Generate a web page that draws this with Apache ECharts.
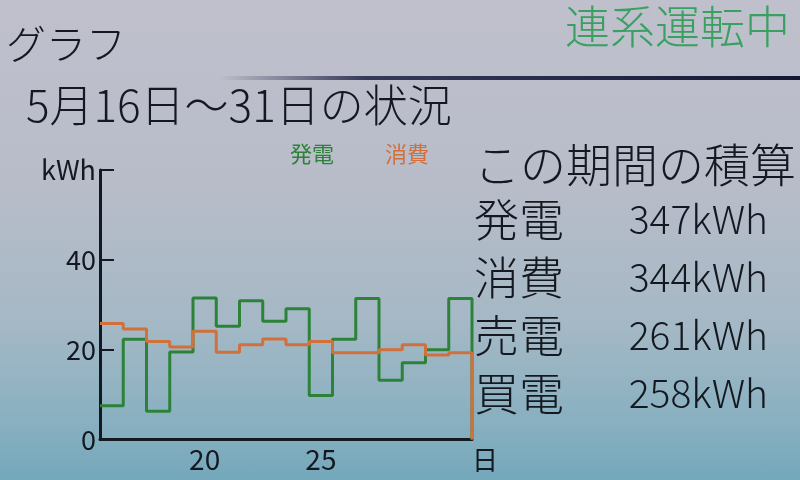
<!DOCTYPE html>
<html>
<head>
<meta charset="utf-8">
<script src="https://cdn.jsdelivr.net/npm/echarts@6/dist/echarts.min.js"></script>
<style>
  html, body { margin: 0; padding: 0; }
  body {
    width: 800px; height: 480px; overflow: hidden;
    background: linear-gradient(to bottom, #bfc0cc 0%, #b8bcc9 40%, #a4b8c5 68%, #88b0c0 88%, #74a8bb 100%);
  }
  #chart { width: 800px; height: 480px; }
</style>
</head>
<body>
<div id="chart"></div>
<script>
// ---- data ----
const days = [16, 17, 18, 19, 20, 21, 22, 23, 24, 25, 26, 27, 28, 29, 30, 31];
const generation = [7.5, 22.3, 6.3, 19.5, 31.5, 25.2, 30.9, 26.3, 29.1, 9.8, 22.3, 31.4, 13.2, 17.1, 20.0, 31.4];
const consumption = [25.8, 24.6, 21.8, 20.6, 24.1, 19.4, 21.1, 22.4, 21.1, 21.8, 19.3, 19.3, 20.0, 21.1, 18.8, 19.3];
const xTickLabels = [20, 25];
const yTicks = [0, 20, 40, 60];
const seriesNames = ['発電', '消費'];
const summaryLabels = ['発電', '消費', '売電', '買電'];
const summaryValues = [347, 344, 261, 258];

const FONT = '"Noto Sans CJK JP", "Noto Sans", sans-serif';
const GREEN = '#2c8238';
const ORANGE = '#d2703c';
const INK = '#141820';

function stepPoints(vals) {
  const pts = days.map((d, i) => [d - 0.5, vals[i]]);
  pts.push([days[days.length - 1] + 0.5, 0]);
  return pts;
}

const chart = echarts.init(document.getElementById('chart'), null, { renderer: 'canvas' });

const graphics = [
  { type: 'text', left: 6, top: 24, style: { text: 'グラフ', font: '300 40px ' + FONT, fill: INK } },
  { type: 'text', left: 26, top: 83, style: { text: '5月16日～31日の状況', font: '300 44px ' + FONT, fill: INK } },
  { type: 'text', right: 10, top: 4, style: { text: '連系運転中', font: '300 45px ' + FONT, fill: '#3aa062' } },
  {
    type: 'rect', shape: { x: 220, y: 76, width: 580, height: 4 },
    style: {
      fill: new echarts.graphic.LinearGradient(0, 0, 1, 0, [
        { offset: 0, color: 'rgba(20,24,60,0)' },
        { offset: 0.25, color: 'rgba(20,24,60,0.8)' },
        { offset: 1, color: 'rgba(20,24,50,1)' }
      ])
    }
  },
  { type: 'text', left: 474, top: 142, style: { text: 'この期間の積算', font: '300 46px ' + FONT, fill: INK } }
];
summaryLabels.forEach((lab, i) => {
  const y = 197 + i * 58;
  graphics.push({ type: 'text', left: 474, top: y, style: { text: lab, font: '300 45px ' + FONT, fill: INK } });
  graphics.push({ type: 'text', right: 32, top: y + 3, style: { text: summaryValues[i] + 'kWh', font: '300 39px ' + FONT, fill: INK } });
});

chart.setOption({
  backgroundColor: 'transparent',
  animation: false,
  textStyle: { fontFamily: FONT },
  legend: {
    data: [
      { name: seriesNames[0], textStyle: { color: GREEN } },
      { name: seriesNames[1], textStyle: { color: ORANGE } }
    ],
    top: 138, left: 280,
    icon: 'none', itemWidth: 0, itemGap: 46,
    textStyle: { fontSize: 22, fontFamily: FONT }
  },
  grid: { left: 100, right: 328, top: 170, bottom: 40.5 },
  xAxis: {
    type: 'value', min: 15.5, max: 31.5,
    name: '日', nameLocation: 'end', nameGap: 0,
    nameTextStyle: { fontSize: 26, color: INK, verticalAlign: 'top', padding: [8, 0, 0, 0] },
    axisLine: { lineStyle: { color: INK, width: 3 } },
    axisTick: { show: false },
    splitLine: { show: false },
    axisLabel: { customValues: xTickLabels, fontSize: 28, color: INK, margin: 6 }
  },
  yAxis: {
    type: 'value', min: 0, max: 60, interval: 20,
    axisLine: { show: true, lineStyle: { color: INK, width: 3 } },
    axisTick: { show: true, inside: true, length: 14, lineStyle: { color: INK, width: 2 } },
    splitLine: { show: false },
    axisLabel: {
      fontSize: 27, color: INK, margin: 4,
      formatter: v => (v === yTicks[yTicks.length - 1] ? 'kWh' : String(v))
    }
  },
  series: [
    {
      name: seriesNames[0], type: 'line', step: 'end', symbol: 'none',
      data: stepPoints(generation), color: GREEN,
      lineStyle: { color: GREEN, width: 3 }, z: 2
    },
    {
      name: seriesNames[1], type: 'line', step: 'end', symbol: 'none',
      data: stepPoints(consumption), color: ORANGE,
      lineStyle: { color: ORANGE, width: 3 }, z: 3
    }
  ],
  graphic: graphics
});
</script>
</body>
</html>
